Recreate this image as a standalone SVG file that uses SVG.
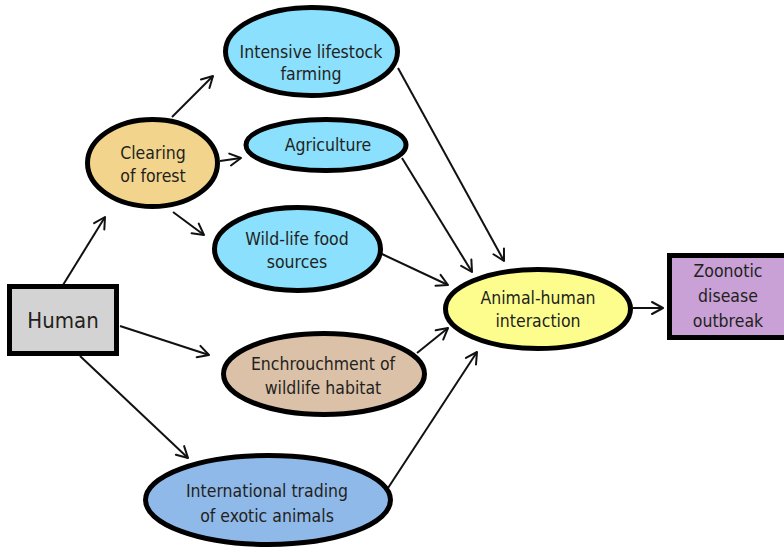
<svg xmlns="http://www.w3.org/2000/svg" width="784" height="549" viewBox="0 0 784 549">
<defs>
<marker id="arr" markerUnits="userSpaceOnUse" markerWidth="16" markerHeight="16" refX="12" refY="7" orient="auto" overflow="visible">
<path d="M1,1 L12,7 L1,13" fill="none" stroke="#111" stroke-width="2" stroke-linecap="round" stroke-linejoin="round"/>
</marker>
<style>
.n{stroke:#000;stroke-width:5}
.t{font-family:"DejaVu Sans Condensed","DejaVu Sans",sans-serif;font-size:17.5px;fill:#231f20;text-anchor:middle}
.c line{stroke:#111;stroke-width:2;marker-end:url(#arr)}
</style>
</defs>
<rect width="784" height="549" fill="#fff"/>
<g class="c" id="connectors">
<line x1="63" y1="285" x2="105" y2="217"/>
<line x1="172" y1="117" x2="213" y2="76"/>
<line x1="220" y1="161" x2="241" y2="158"/>
<line x1="173" y1="212" x2="204" y2="235"/>
<line x1="120" y1="326" x2="209" y2="355"/>
<line x1="80" y1="356" x2="188" y2="458"/>
<line x1="398" y1="68" x2="504" y2="261"/>
<line x1="402" y1="158" x2="472" y2="272"/>
<line x1="382" y1="254" x2="448" y2="285"/>
<line x1="417" y1="353" x2="448" y2="328"/>
<line x1="388" y1="488" x2="477" y2="352"/>
<line x1="633" y1="308" x2="663" y2="308"/>
</g>
<g id="human">
<rect class="n" x="9.5" y="286.5" width="107" height="67" fill="#d3d3d3"/>
<text class="t" x="63" y="328" style="font-size:22px">Human</text>
</g>
<g id="clearing">
<ellipse class="n" cx="152.5" cy="163" rx="65" ry="43.5" fill="#f2d48c"/>
<text class="t" x="153" y="159">Clearing</text>
<text class="t" x="153" y="182">of forest</text>
</g>
<g id="intensive">
<ellipse class="n" cx="311.5" cy="51.5" rx="86" ry="44" fill="#8ae0fd"/>
<text class="t" x="311" y="58">Intensive lifestock</text>
<text class="t" x="311" y="80">farming</text>
</g>
<g id="agriculture">
<ellipse class="n" cx="326" cy="145" rx="80" ry="25.5" fill="#8ae0fd"/>
<text class="t" x="328" y="151">Agriculture</text>
</g>
<g id="wildlife">
<ellipse class="n" cx="297.5" cy="249" rx="83" ry="41.5" fill="#8ae0fd"/>
<text class="t" x="297" y="245">Wild-life food</text>
<text class="t" x="297" y="268">sources</text>
</g>
<g id="enchrouchment">
<ellipse class="n" cx="324" cy="374" rx="100.5" ry="40.5" fill="#dcc1a9"/>
<text class="t" x="323" y="370">Enchrouchment of</text>
<text class="t" x="323" y="394">wildlife habitat</text>
</g>
<g id="trading">
<ellipse class="n" cx="268" cy="500" rx="122.5" ry="44.5" fill="#8fb9e9"/>
<text class="t" x="267" y="497">International trading</text>
<text class="t" x="267" y="522">of exotic animals</text>
</g>
<g id="interaction">
<ellipse class="n" cx="538" cy="309" rx="92.5" ry="39.5" fill="#fdfd8d"/>
<text class="t" x="538" y="304">Animal-human</text>
<text class="t" x="538" y="327">interaction</text>
</g>
<g id="outbreak">
<rect class="n" x="669.5" y="255.5" width="130" height="82" fill="#c9a1d6"/>
<text class="t" x="728" y="277">Zoonotic</text>
<text class="t" x="728" y="302">disease</text>
<text class="t" x="728" y="327">outbreak</text>
</g>
</svg>
